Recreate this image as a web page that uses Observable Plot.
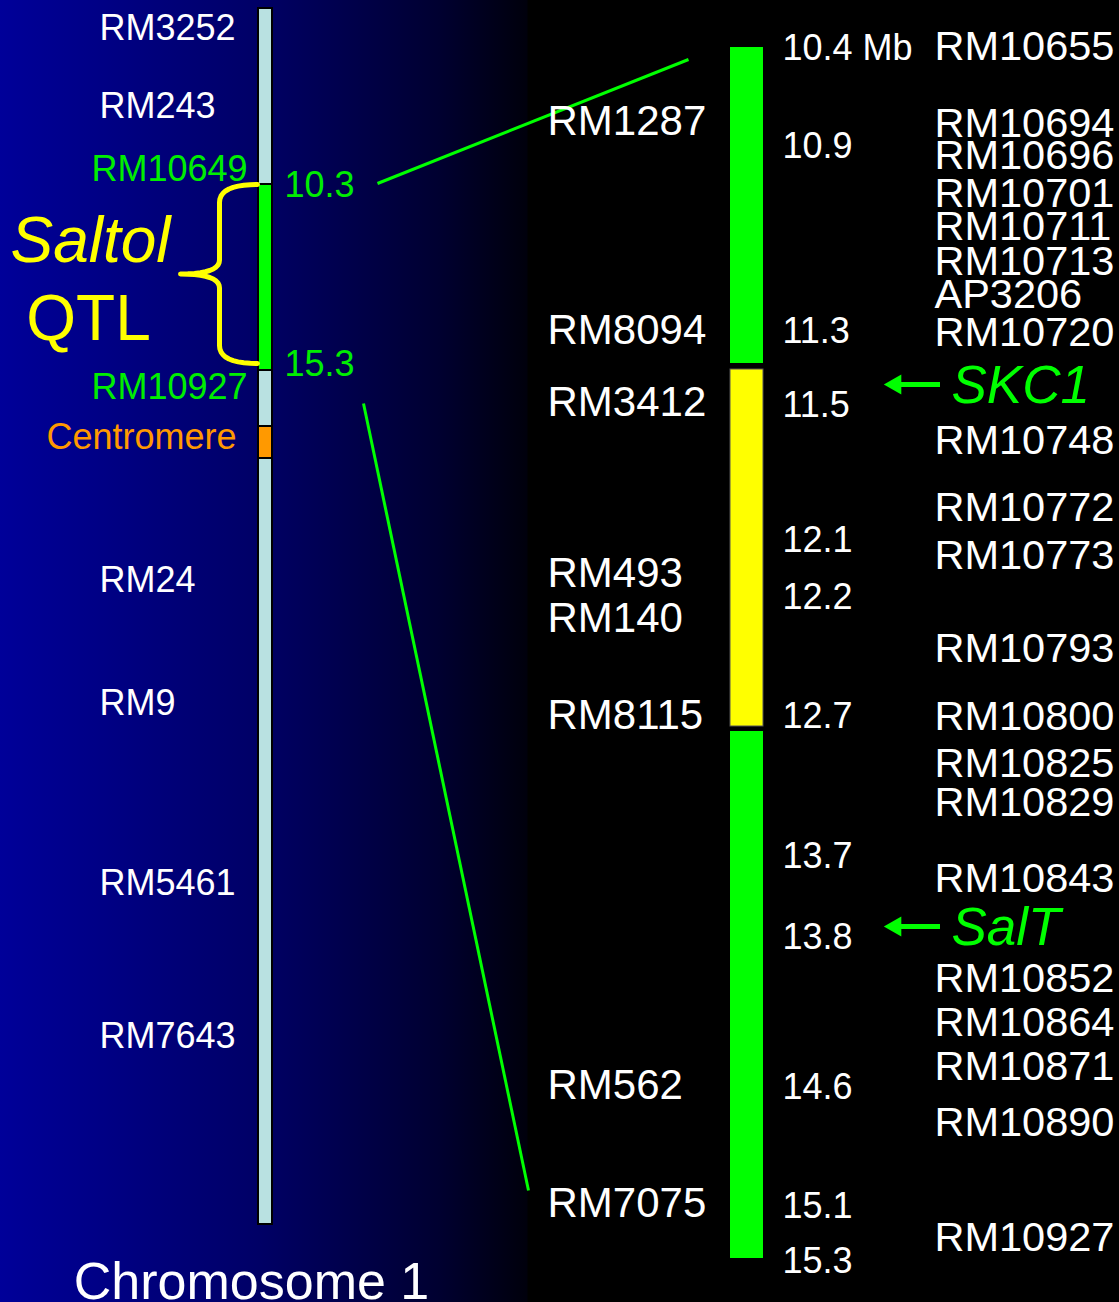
<!DOCTYPE html>
<html>
<head>
<meta charset="utf-8">
<script src="https://cdn.jsdelivr.net/npm/d3@7"></script>
<script src="https://cdn.jsdelivr.net/npm/@observablehq/plot@0.6"></script>
<style>
  html, body { margin: 0; padding: 0; background: #000; overflow: hidden; }
  #chart svg { display: block; }
</style>
</head>
<body>
<div id="chart"></div>
<script>
// ---------------- DATA (positions are along the drawing) ----------------
// Chromosome 1 overview (left)
const chrSegmentKinds = ["arm", "qtl", "arm", "centromere", "arm"];
const chrSegmentStart = [8, 184, 370, 426, 458];
const chrSegmentEnd   = [184, 370, 426, 458, 1224];

const chrMarkers   = ["RM3252", "RM243", "RM24", "RM9", "RM5461", "RM7643"];
const chrMarkerPos = [28, 106, 580, 703, 883, 1036];

const flankMarkers   = ["RM10649", "RM10927"];
const flankMarkerPos = [169, 387];

const qtlBoundLabels = ["10.3", "15.3"];
const qtlBoundPos    = [185, 364];

const centromereLabel = ["Centromere"];
const centromerePos   = [437];

// Saltol region, enlarged (right)
const mapSegmentKinds = ["flank", "core", "flank"];
const mapSegmentStart = [47, 369, 731];
const mapSegmentEnd   = [363, 726, 1258];

const mbLabels = ["10.4 Mb", "10.9", "11.3", "11.5", "12.1", "12.2", "12.7", "13.7", "13.8", "14.6", "15.1", "15.3"];
const mbPos    = [48, 146, 331, 405, 540, 597, 716, 856, 937, 1087, 1206, 1261];

const anchorMarkers   = ["RM1287", "RM8094", "RM3412", "RM493", "RM140", "RM8115", "RM562", "RM7075"];
const anchorMarkerPos = [121, 330, 402, 573, 618, 715, 1085, 1203];

const fineMarkers = ["RM10655", "RM10694", "RM10696", "RM10701", "RM10711", "RM10713", "AP3206", "RM10720",
  "RM10748", "RM10772", "RM10773", "RM10793", "RM10800", "RM10825", "RM10829", "RM10843",
  "RM10852", "RM10864", "RM10871", "RM10890", "RM10927"];
const fineMarkerPos = [46, 123, 155, 193, 226, 261, 294, 332,
  440, 507, 555, 648, 716, 763, 802, 878,
  978, 1022, 1066, 1122, 1237];

const genes   = ["SKC1", "SalT"];
const genePos = [384, 926];

const title = ["Chromosome 1"];

// ---------------- TABLES ----------------
const zip = (a, b) => a.map((label, i) => ({label, pos: b[i]}));
const chrSegments = chrSegmentKinds.map((kind, i) => ({kind, start: chrSegmentStart[i], end: chrSegmentEnd[i]}));
const mapSegments = mapSegmentKinds.map((kind, i) => ({kind, start: mapSegmentStart[i], end: mapSegmentEnd[i]}));
const chrMarkerRows = zip(chrMarkers, chrMarkerPos);
const flankRows = zip(flankMarkers, flankMarkerPos);
const boundRows = zip(qtlBoundLabels, qtlBoundPos);
const centroRows = zip(centromereLabel, centromerePos);
const mbRows = zip(mbLabels, mbPos);
const anchorRows = zip(anchorMarkers, anchorMarkerPos);
const fineRows = zip(fineMarkers, fineMarkerPos);
const geneRows = zip(genes, genePos);

// ---------------- LAYOUT / STYLE ----------------
const GREEN = "#00ff00", YELLOW = "#ffff00", ORANGE = "#ff9900", PALE = "#b9e1e1";
const segFill = {arm: PALE, qtl: GREEN, centromere: ORANGE, flank: GREEN, core: YELLOW};
const FONT = "'Liberation Sans', Arial, Helvetica, sans-serif";

const qtl = chrSegments.find(d => d.kind === "qtl");
const mapTop = d3.min(mapSegments, d => d.start);
const mapBottom = d3.max(mapSegments, d => d.end);
const qtlMid = (qtl.start + qtl.end) / 2;

// curly brace beside the QTL segment
function bracePoints(top, bottom, tipX, spineX, pointX) {
  const mid = (top + bottom) / 2, pts = [];
  const quad = (p0, c, p1) => {
    for (let k = 0; k <= 10; k++) {
      const t = k / 10, u = 1 - t;
      pts.push([u*u*p0[0] + 2*u*t*c[0] + t*t*p1[0], u*u*p0[1] + 2*u*t*c[1] + t*t*p1[1]]);
    }
  };
  quad([tipX, top], [spineX, top], [spineX, top + 18]);
  quad([spineX, mid - 14], [spineX, mid], [pointX, mid]);
  quad([pointX, mid], [spineX, mid], [spineX, mid + 14]);
  quad([spineX, bottom - 18], [spineX, bottom], [tipX, bottom]);
  return pts;
}
const brace = bracePoints(qtl.start, qtl.end - 7, 257, 219, 180);

const connectors = [
  {x1: 377, y1: qtl.start - 1, x2: 688, y2: mapTop + 12},
  {x1: 363, y1: qtl.end + 33, x2: 528, y2: mapBottom - 68}
];

const chart = Plot.plot({
  width: 1119,
  height: 1302,
  margin: 0,
  x: {domain: [0, 1119], range: [0, 1119], axis: null},
  y: {domain: [0, 1302], range: [0, 1302], axis: null},
  color: {type: "identity"},
  style: {
    background: "linear-gradient(90deg, #000099 0px, #000066 260px, #000030 440px, #00000c 527px, #000000 528px, #000000 1119px)",
    fontFamily: FONT,
    color: "white"
  },
  marks: [
    // zoom connectors
    Plot.link(connectors, {x1: "x1", y1: "y1", x2: "x2", y2: "y2", stroke: GREEN, strokeWidth: 3}),

    // chromosome 1 bar
    Plot.rect(chrSegments, {x1: 258, x2: 272, y1: "start", y2: "end", fill: d => segFill[d.kind], stroke: "#000", strokeWidth: 2}),

    // brace
    Plot.line(brace, {x: d => d[0], y: d => d[1], stroke: YELLOW, strokeWidth: 5, strokeLinecap: "round", strokeLinejoin: "round"}),
    Plot.text(["Saltol"], {x: 90, y: qtlMid - 36, text: d => d, fill: YELLOW, fontSize: 64, fontStyle: "italic", textAnchor: "middle"}),
    Plot.text(["QTL"], {x: 88, y: qtlMid + 42, text: d => d, fill: YELLOW, fontSize: 64, textAnchor: "middle"}),

    // chromosome labels
    Plot.text(chrMarkerRows, {x: 99, y: "pos", text: "label", fill: "white", fontSize: 36, textAnchor: "start"}),
    Plot.text(flankRows, {x: 247, y: "pos", text: "label", fill: "#00ee00", fontSize: 36, textAnchor: "end"}),
    Plot.text(centroRows, {x: 236, y: "pos", text: "label", fill: ORANGE, fontSize: 36, textAnchor: "end"}),
    Plot.text(boundRows, {x: 284, y: "pos", text: "label", fill: "#00ee00", fontSize: 36, textAnchor: "start"}),

    // enlarged map bar
    Plot.rect(mapSegments, {x1: 730, x2: 763, y1: "start", y2: "end", fill: d => segFill[d.kind],
      stroke: d => d.kind === "core" ? "#555" : "none", strokeWidth: 1}),

    // map labels
    Plot.text(anchorRows, {x: 547, y: "pos", text: "label", fill: "white", fontSize: 42, textAnchor: "start"}),
    Plot.text(mbRows, {x: 782, y: "pos", text: "label", fill: "white", fontSize: 36, textAnchor: "start"}),
    Plot.text(fineRows, {x: 934, y: "pos", text: "label", fill: "white", fontSize: 41.5, textAnchor: "start"}),

    // gene arrows
    Plot.ruleY(geneRows, {y: "pos", x1: 893, x2: 940, stroke: GREEN, strokeWidth: 5}),
    Plot.dot(geneRows, {x: 895, y: "pos", symbol: "triangle", rotate: -90, r: 7.5, fill: GREEN, stroke: "none"}),
    Plot.text(geneRows, {x: 951, y: d => d.pos + 2, text: "label", fill: GREEN, fontSize: 53, fontStyle: "italic", textAnchor: "start"}),

    // title
    Plot.text(title, {x: 251, y: 1282, text: d => d, fill: "white", fontSize: 52, textAnchor: "middle"})
  ]
});

document.getElementById("chart").append(chart);
</script>
</body>
</html>
